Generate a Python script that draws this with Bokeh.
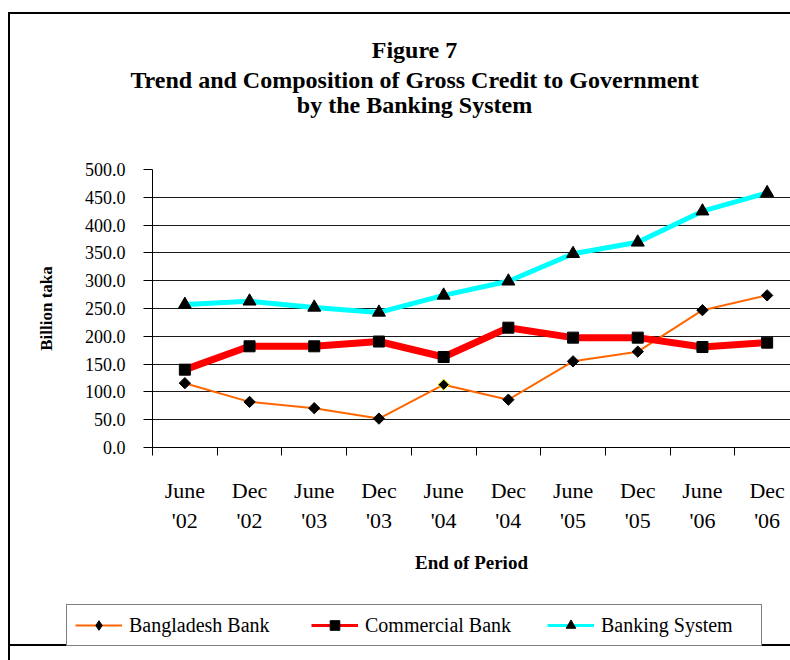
from bokeh.plotting import figure
from bokeh.models import (Range1d, FixedTicker, ColumnDataSource, Legend, LegendItem,
                          LinearAxis, Label, InlineStyleSheet)
from bokeh.layouts import column
from bokeh.embed import file_html
from bokeh.resources import INLINE

# ---------------- data ----------------
MONTHS = ["June", "Dec", "June", "Dec", "June", "Dec", "June", "Dec", "June", "Dec"]
YEARS = ["'02", "'02", "'03", "'03", "'04", "'04", "'05", "'05", "'06", "'06"]
BANGLADESH_BANK = [115.7, 82.0, 70.7, 52.0, 113.0, 86.0, 155.0, 172.4, 247.0, 273.6]
COMMERCIAL_BANK = [140.0, 182.0, 182.0, 190.6, 162.8, 215.5, 197.6, 197.6, 180.7, 188.6]
BANKING_SYSTEM = [257.0, 263.0, 252.0, 243.0, 273.6, 299.0, 348.5, 369.0, 425.0, 458.0]
Y_TICKS = [0, 50, 100, 150, 200, 250, 300, 350, 400, 450, 500]
TITLE_LINES = ["Figure 7", "Trend and Composition of Gross Credit to Government",
               "by the Banking System"]
SERIES_NAMES = ["Bangladesh Bank", "Commercial Bank", "Banking System"]

FONT = "Liberation Serif"

# ---------------- geometry ----------------
W = 790
TITLE_H, MAIN_H, LEG_H = 130, 470, 60
FRAME_L, FRAME_TOP_PAGE, FRAME_H = 152, 169, 278
CAT_W = 64.7
XMAX = (W - FRAME_L) / CAT_W

# ---------------- title block ----------------
pt = figure(width=W, height=TITLE_H, output_backend="svg", toolbar_location=None,
            x_range=Range1d(0, W), y_range=Range1d(TITLE_H, 0),
            x_axis_location=None, y_axis_location=None, min_border=0)
pt.frame_align = False
pt.grid.visible = False
pt.outline_line_color = None
pt.background_fill_color = None
pt.border_fill_color = None
for line, base in zip(TITLE_LINES, [49, 79, 104]):
    pt.add_layout(Label(x=414, y=base, text=line, text_align="center",
                        text_baseline="alphabetic", text_font=FONT,
                        text_font_style="bold", text_font_size="24px",
                        text_color="black"))

# ---------------- main chart ----------------
top = FRAME_TOP_PAGE - TITLE_H
p = figure(width=W, height=MAIN_H, output_backend="svg", toolbar_location=None,
           x_range=Range1d(0, XMAX), y_range=Range1d(0, 500),
           min_border_left=FRAME_L, min_border_right=0,
           min_border_top=top, min_border_bottom=MAIN_H - top - FRAME_H)
p.frame_align = False
p.outline_line_color = None
p.background_fill_color = "white"
p.border_fill_color = None

p.xgrid.grid_line_color = None
p.ygrid.ticker = FixedTicker(ticks=Y_TICKS)
p.ygrid.grid_line_color = "#1a1a1a"
p.ygrid.grid_line_width = 1

ya = p.yaxis[0]
ya.ticker = FixedTicker(ticks=Y_TICKS)
ya.major_label_overrides = {t: f"{t:.1f}" for t in Y_TICKS}
ya.major_label_text_font = FONT
ya.major_label_text_font_size = "18px"
ya.major_label_text_color = "black"
ya.major_label_standoff = 18
ya.major_tick_out = 9
ya.major_tick_in = 0
ya.minor_tick_line_color = None
ya.axis_line_color = "black"
ya.major_tick_line_color = "black"
ya.axis_label = "Billion taka"
ya.axis_label_text_font = FONT
ya.axis_label_text_font_style = "bold"
ya.axis_label_text_font_size = "17px"
ya.axis_label_text_color = "black"
ya.axis_label_standoff = 26

centres = [i + 0.5 for i in range(len(MONTHS))]
bounds = list(range(len(MONTHS)))
xa = p.xaxis[0]
xa.ticker = FixedTicker(ticks=centres, minor_ticks=bounds)
xa.major_label_overrides = {c: m for c, m in zip(centres, MONTHS)}
xa.major_label_text_font = FONT
xa.major_label_text_font_size = "22px"
xa.major_label_text_color = "black"
xa.major_label_standoff = 22
xa.major_tick_out = 0
xa.major_tick_in = 0
xa.major_tick_line_color = None
xa.minor_tick_out = 8
xa.minor_tick_in = 0
xa.minor_tick_line_color = "black"
xa.axis_line_color = "black"

xa2 = LinearAxis(ticker=FixedTicker(ticks=centres, minor_ticks=[]),
                 major_label_overrides={c: y for c, y in zip(centres, YEARS)})
xa2.major_label_text_font = FONT
xa2.major_label_text_font_size = "22px"
xa2.major_label_text_color = "black"
xa2.major_label_standoff = 2
xa2.major_tick_out = 0
xa2.major_tick_in = 0
xa2.major_tick_line_color = None
xa2.minor_tick_line_color = None
xa2.axis_line_color = None
xa2.axis_label = "End of Period"
xa2.axis_label_text_font = FONT
xa2.axis_label_text_font_style = "bold"
xa2.axis_label_text_font_size = "19px"
xa2.axis_label_text_color = "black"
xa2.axis_label_standoff = 16
p.add_layout(xa2, "below")

bb_edges = ["black"] * len(BANGLADESH_BANK)
bb_edges[4] = "yellow"
src = ColumnDataSource(dict(x=centres, bb=BANGLADESH_BANK, cb=COMMERCIAL_BANK,
                            bs=BANKING_SYSTEM, bbe=bb_edges))

STYLES = [
    dict(col="bb", line="#FF6600", lw=2, marker="square", angle=0.785398, size=8,
         leg_marker="diamond", leg_size=13, leg_lw=2),
    dict(col="cb", line="#FF0000", lw=7, marker="square", angle=0.0, size=11,
         leg_marker="square", leg_size=11, leg_lw=3),
    dict(col="bs", line="#00FFFF", lw=5, marker="triangle", angle=0.0, size=13,
         leg_marker="triangle", leg_size=12, leg_lw=3),
]
for st in STYLES:
    p.line("x", st["col"], source=src, line_color=st["line"], line_width=st["lw"])
    p.scatter("x", st["col"], source=src, marker=st["marker"], angle=st["angle"],
              size=st["size"], fill_color="black",
              line_color="bbe" if st["col"] == "bb" else "black", line_width=1)

# ---------------- legend block ----------------
# the same series are attached here only as legend keys (the y range hides them)
pl = figure(width=W, height=LEG_H, output_backend="svg", toolbar_location=None,
            x_range=Range1d(0, XMAX), y_range=Range1d(-2, -1),
            x_axis_location=None, y_axis_location=None, min_border=0)
pl.frame_align = False
pl.grid.visible = False
pl.outline_line_color = None
pl.background_fill_color = None
pl.border_fill_color = None
items = []
for name, st in zip(SERIES_NAMES, STYLES):
    rl = pl.line("x", st["col"], source=src, line_color=st["line"],
                 line_width=st["leg_lw"])
    rm = pl.scatter("x", st["col"], source=src, marker=st["leg_marker"],
                    size=st["leg_size"], fill_color="black", line_color="black")
    items.append(LegendItem(label=name, renderers=[rl, rm]))

legend = Legend(items=items, orientation="horizontal", location=(66, 14))
legend.label_text_font = FONT
legend.label_text_font_size = "20px"
legend.label_text_color = "black"
legend.label_standoff = 7
legend.label_width = 152
legend.glyph_width = 47
legend.glyph_height = 24
legend.spacing = 30
legend.padding = 8
legend.margin = 0
legend.border_line_color = "black"
legend.border_line_width = 1
legend.background_fill_color = "white"
legend.background_fill_alpha = 1
pl.add_layout(legend, "center")

layout = column(pt, p, pl, spacing=0)
layout.stylesheets = [InlineStyleSheet(css="""
:host::before { content: ""; position: absolute; left: 7.5px; top: 12px; width: 780px;
  height: 630px; border-left: 2px solid #000; border-top: 2px solid #000;
  border-bottom: 2px solid #000; z-index: -1; pointer-events: none; }
:host::after { content: ""; position: absolute; left: 7.5px; top: 646px; width: 2px;
  height: 14px; background: #000; z-index: -1; pointer-events: none; }
""")]

open("out.html", "w").write(file_html(layout, INLINE))
